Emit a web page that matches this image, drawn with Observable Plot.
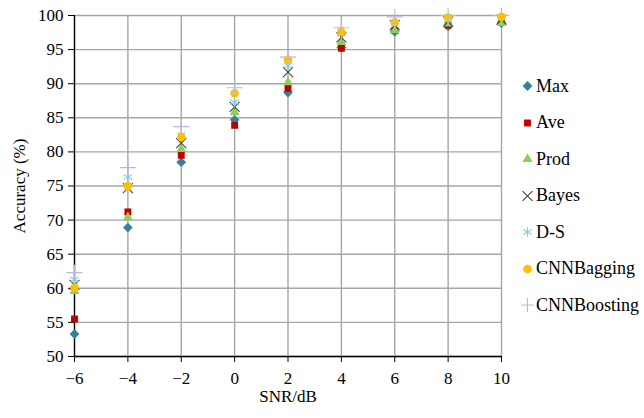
<!DOCTYPE html>
<html><head><meta charset="utf-8">
<script src="https://cdn.jsdelivr.net/npm/d3@7"></script>
<script src="https://cdn.jsdelivr.net/npm/@observablehq/plot@0.6"></script>
<style>
body{margin:0;background:#fff}
#wrap{position:relative;width:644px;height:418px}
#legend{position:absolute;left:521px;top:0}
.item{position:absolute;left:0;height:20px;display:flex;align-items:center;white-space:nowrap;color:#000}
.item span{font-family:"Liberation Serif",serif;font-size:18px;font-weight:normal}
.item svg{margin-right:2px}
</style></head><body><div id="wrap"><div id="legend"></div></div>
<script>
const snr = [-6, -4, -2, 0, 2, 4, 6, 8, 10];
const seriesNames = ["Max", "Ave", "Prod", "Bayes", "D-S", "CNNBagging", "CNNBoosting"];
const maxVals   = [53.3, 68.9, 78.5, 84.7, 88.7, 95.3, 97.6, 98.4, 98.9];
const aveVals   = [55.5, 71.2, 79.5, 83.9, 89.3, 95.2, 97.8, 98.6, 99.0];
const prodVals  = [59.6, 70.4, 80.4, 85.8, 90.2, 96.1, 97.8, 98.8, 98.9];
const bayesVals = [60.5, 74.7, 81.3, 86.6, 91.7, 96.8, 98.6, 99.1, 99.4];
const dsVals    = [61.3, 76.3, 82.5, 87.3, 92.7, 97.3, 98.8, 99.3, 99.6];
const bagVals   = [60.1, 75.0, 82.2, 88.6, 93.5, 97.6, 99.0, 99.7, 99.8];
const boostVals = [62.3, 77.7, 83.7, 89.4, 93.9, 98.2, 99.8, 100, 100];
const xTicks = [-6, -4, -2, 0, 2, 4, 6, 8, 10];
const yTicks = [50, 55, 60, 65, 70, 75, 80, 85, 90, 95, 100];

const valuesBySeries = [maxVals, aveVals, prodVals, bayesVals, dsVals, bagVals, boostVals];

const styles = {
  "Max":         {symbol: "diamond2", fill: "#31849b", stroke: "none", r: 4.4, sw: 0},
  "Ave":         {symbol: "square",   fill: "#c00000", stroke: "none", r: 3.9, sw: 0},
  "Prod":        {symbol: "triangle", fill: "#8fcc58", stroke: "none", r: 3.7, sw: 0},
  "Bayes":       {symbol: "times",    fill: "none", stroke: "#454545", r: 4.6, sw: 1.1},
  "D-S":         {symbol: "asterisk", fill: "none", stroke: "#83cde4", r: 4.6, sw: 1.1},
  "CNNBagging":  {symbol: "circle",   fill: "#ffc000", stroke: "none", r: 4.3, sw: 0},
  "CNNBoosting": {symbol: "plus",     fill: "none", stroke: "#b5badd", r: 5.2, sw: 1.1}
};

const data = seriesNames.flatMap((name, i) =>
  snr.map((x, j) => ({series: name, snr: x, acc: valuesBySeries[i][j]})));

const dotMarks = seriesNames.map(name => {
  const s = styles[name];
  return Plot.dot(data.filter(d => d.series === name), {
    x: "snr", y: "acc", symbol: s.symbol, r: s.r,
    fill: s.fill, stroke: s.stroke, strokeWidth: s.sw
  });
});

const chart = Plot.plot({
  width: 644, height: 418,
  marginLeft: 74, marginRight: 143, marginTop: 15, marginBottom: 62,
  style: {fontFamily: '"Liberation Serif", serif', fontSize: "17px", color: "#000", background: "#fff"},
  x: {domain: [-6, 10]},
  y: {domain: [50, 100]},
  marks: [
    Plot.gridX(xTicks, {stroke: "#a6a6a6", strokeOpacity: 1, strokeWidth: 1.4}),
    Plot.gridY(yTicks, {stroke: "#a6a6a6", strokeOpacity: 1, strokeWidth: 1.4}),
    Plot.axisX({ticks: xTicks, tickSize: 6, tickPadding: 9, label: "SNR/dB", labelAnchor: "center", labelArrow: "none", labelOffset: 45}),
    Plot.axisY({ticks: yTicks, tickSize: 6, tickPadding: 5, label: "Accuracy (%)", labelAnchor: "center", labelArrow: "none", labelOffset: 62}),
    Plot.ruleX([-6], {stroke: "#000", strokeWidth: 1.3}),
    Plot.ruleY([50], {stroke: "#000", strokeWidth: 1.3}),
    ...dotMarks
  ]
});
document.getElementById("wrap").prepend(chart);

const symMap = {
  diamond2: d3.symbolDiamond2, square: d3.symbolSquare, triangle: d3.symbolTriangle,
  times: d3.symbolTimes, asterisk: d3.symbolAsterisk, circle: d3.symbolCircle, plus: d3.symbolPlus
};
const legend = document.getElementById("legend");
seriesNames.forEach((name, i) => {
  const s = styles[name];
  const item = document.createElement("div");
  item.className = "item";
  item.style.top = (76 + i * 36.5) + "px";
  const path = d3.symbol(symMap[s.symbol], Math.PI * s.r * s.r)();
  item.innerHTML = `<svg width="13" height="14" viewBox="-6.5 -7 13 14"><path d="${path}" fill="${s.fill}" stroke="${s.stroke}" stroke-width="${s.sw}"/></svg><span>${name}</span>`;
  legend.appendChild(item);
});
</script>
</body></html>
